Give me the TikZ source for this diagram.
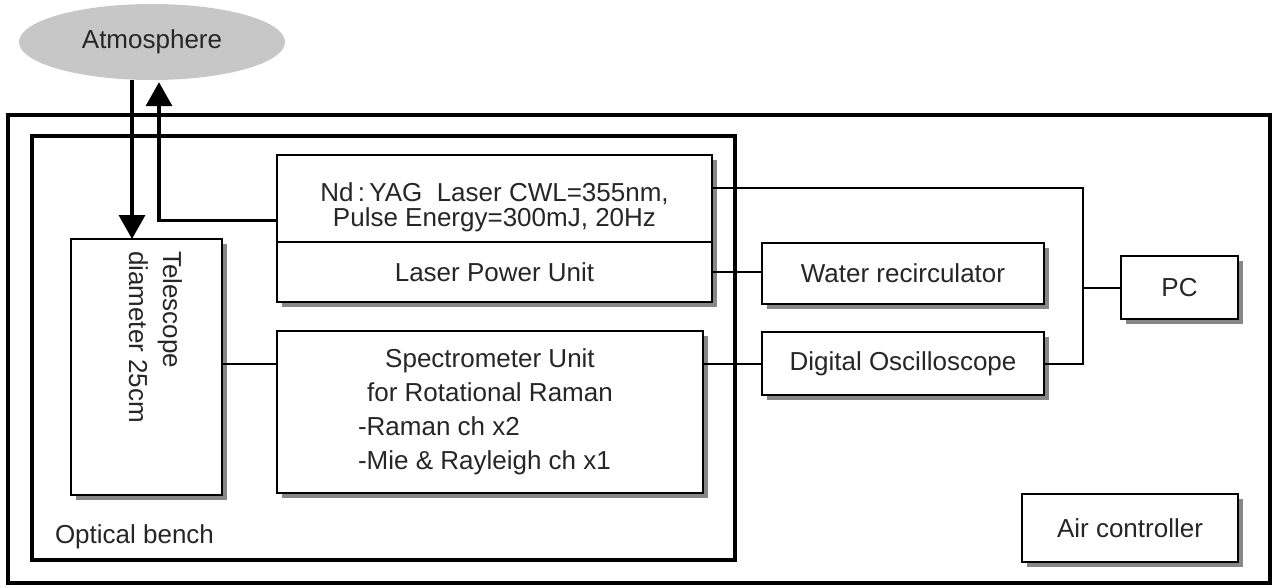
\documentclass[tikz,border=0pt]{standalone}
\usepackage{fontspec}
\setmainfont{Liberation Sans}
\usetikzlibrary{shapes.geometric,arrows.meta,shadows,calc}
\definecolor{shadowgray}{gray}{0.53}
\definecolor{atmgray}{gray}{0.78}
\definecolor{inkgray}{gray}{0.15}
\begin{document}
\begin{tikzpicture}[x=1pt,y=-1pt,
  font=\fontsize{26}{34}\selectfont,
  every node/.style={text=inkgray},
  frame/.style={draw, line width=3.5pt},
  box/.style={draw=black, line width=2.2pt, fill=white, inner sep=0pt, outer sep=0pt,
    anchor=north west, align=center,
    drop shadow={shadow xshift=5pt, shadow yshift=-5pt, fill=shadowgray, opacity=1}},
  txt/.style={inner sep=0pt, outer sep=0pt},
  conn/.style={line width=2pt},
  bigarrow/.style={line width=3.5pt, -{Triangle[length=24pt,width=26pt]}},
]
\useasboundingbox (0,0) rectangle (1277,587);

% frames
\draw[frame] (8,115) rectangle (1270,583);
\draw[frame] (32,136) rectangle (735,560);
\node[txt, anchor=west] (bench) at (55,537) {Optical bench};

% atmosphere
\node[ellipse, fill=atmgray, draw=none, minimum width=266pt, minimum height=76pt] (atm) at (152,42) {Atmosphere};

% boxes
\node[box, minimum width=151pt, minimum height=256pt] (tele) at (71,239) {};
\node[txt, rotate=-90, anchor=north west, align=left] (telelabel) at (182,251) {Telescope\\diameter 25cm};

\node[box, minimum width=435pt, minimum height=87pt] (laser) at (277,155) {};
\node[txt, align=center, font=\fontsize{26}{24.5}\selectfont] (lasertext) at ([yshift=-9pt]laser.center)
  {Nd\,:\,YAG\ \ Laser CWL=355nm,\\Pulse Energy=300mJ, 20Hz};
\node[box, minimum width=435pt, minimum height=60pt] (lpu) at (277,242) {Laser Power Unit};

\node[box, minimum width=426pt, minimum height=162pt] (spec) at (277,331)
  {Spectrometer Unit\\for Rotational Raman\\\makebox[264pt][l]{-Raman ch x2}\\\makebox[264pt][l]{-Mie \& Rayleigh ch x1}};

\node[box, minimum width=282pt, minimum height=61pt] (water) at (762,243) {Water recirculator};
\node[box, minimum width=282pt, minimum height=63pt] (osc) at (762,332) {Digital Oscilloscope};
\node[box, minimum width=117pt, minimum height=63pt] (pc) at (1121,256) {PC};
\node[box, minimum width=216pt, minimum height=68pt] (air) at (1022,494) {Air controller};

% connectors
\draw[conn] (spec.west |- osc.west) -- (tele.east |- osc.west);
\draw[conn] (spec.east |- osc.west) -- (osc.west);
\draw[conn] (lpu.east) -- (lpu.east -| water.west);
\coordinate (bus) at (1083,188);
\draw[conn] (laser.east |- bus) -- (bus) |- (osc.east);
\draw[conn] (bus |- pc.west) -- (pc.west);

% arrows
\coordinate (dn) at (132,0);
\coordinate (up) at (159,0);
\draw[bigarrow] (atm.south -| dn) -- (tele.north -| dn);
\draw[bigarrow] ([yshift=-22pt]laser.west) -| ([yshift=-2pt]atm.south -| up);
\end{tikzpicture}
\end{document}
